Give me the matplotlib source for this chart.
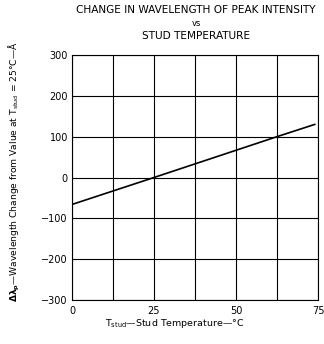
import matplotlib
matplotlib.use("Agg")
import matplotlib.pyplot as plt
import numpy as np

# data
temp = [0, 25, 62.5, 74]
delta = [-66, 0, 100, 130]
xticks = [0, 25, 50, 75]
yticks = [-300, -200, -100, 0, 100, 200, 300]
xgrid = [0, 12.5, 25, 37.5, 50, 62.5, 75]

fig = plt.figure(figsize=(3.24, 3.44), dpi=100)
ax = fig.add_axes([72/324, 1-300/344, (318-72)/324, (300-55)/344])

ax.plot(temp, delta, color="black", lw=1.2, zorder=3)
ax.set_xlim(0, 75)
ax.set_ylim(-300, 300)
ax.set_xticks(xticks)
ax.set_xticks(xgrid, minor=True)
ax.set_yticks(yticks)
ax.set_yticklabels([str(v).replace("-", "\u2212") for v in yticks])
ax.grid(True, which="both", color="black", lw=0.8)
ax.tick_params(which="both", length=0, labelsize=7)
ax.tick_params(axis="x", pad=4)
ax.tick_params(axis="y", pad=3)
for s in ax.spines.values():
    s.set_linewidth(0.8)

fig.text(196/324, 1-10/344, "CHANGE IN WAVELENGTH OF PEAK INTENSITY", ha="center", va="center", fontsize=7.6)
fig.text(196/324, 1-23/344, "vs", ha="center", va="center", fontsize=6)
fig.text(196/324, 1-36/344, "STUD TEMPERATURE", ha="center", va="center", fontsize=7.6)

fig.text(14/324, 1-172/344,
         r"$\mathbf{\Delta\lambda}_{\mathbf{p}}$—Wavelength Change from Value at T$_{\mathrm{stud}}$ = 25°C—Å",
         rotation=90, ha="center", va="center", fontsize=6.6)
fig.text(175/324, 1-323/344, r"T$_{\mathrm{stud}}$—Stud Temperature—°C",
         ha="center", va="center", fontsize=6.8)

fig.savefig("out.png", dpi=100)
